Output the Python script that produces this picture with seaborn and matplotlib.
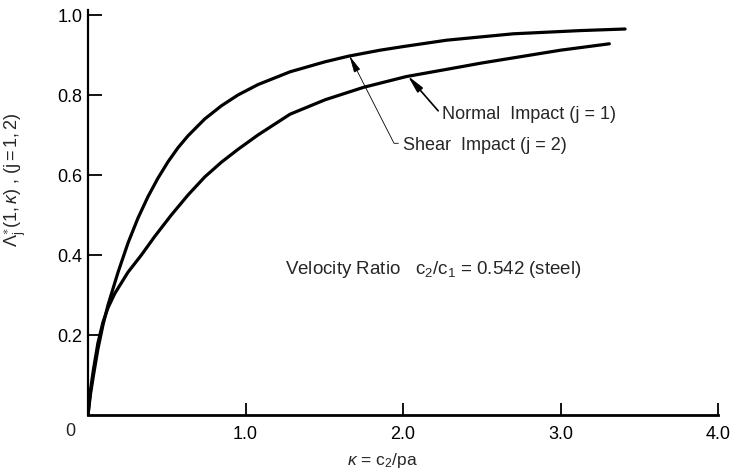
import matplotlib
matplotlib.use('Agg')
import matplotlib.pyplot as plt
import seaborn as sns

# --- Data ---
kappa_shear = [0, 0.015, 0.035, 0.063, 0.095, 0.127, 0.190, 0.254, 0.317, 0.381,
               0.444, 0.508, 0.571, 0.635, 0.741, 0.847, 0.952, 1.079, 1.283,
               1.505, 1.653, 1.854, 2.0, 2.277, 2.70, 3.124, 3.41]
lam_shear = [0, 0.05, 0.10, 0.165, 0.225, 0.275, 0.356, 0.43, 0.492, 0.546,
             0.592, 0.633, 0.668, 0.698, 0.740, 0.773, 0.800, 0.826, 0.858,
             0.883, 0.897, 0.912, 0.921, 0.937, 0.953, 0.961, 0.965]

kappa_normal = [0, 0.015, 0.035, 0.063, 0.095, 0.127, 0.169, 0.254, 0.339, 0.423,
                0.529, 0.635, 0.741, 0.847, 0.952, 1.079, 1.283, 1.505, 1.748,
                2.02, 2.36, 2.5, 3.0, 3.31]
lam_normal = [0, 0.06, 0.115, 0.18, 0.232, 0.268, 0.303, 0.357, 0.40, 0.446,
              0.50, 0.55, 0.595, 0.632, 0.664, 0.700, 0.752, 0.788, 0.819,
              0.846, 0.870, 0.880, 0.912, 0.928]

x_ticks = [1.0, 2.0, 3.0, 4.0]
x_tick_labels = ['1.0', '2.0', '3.0', '4.0']
y_ticks = [0.2, 0.4, 0.6, 0.8, 1.0]
y_tick_labels = ['0.2', '0.4', '0.6', '0.8', '1.0']

# --- Style ---
sns.set_style('ticks')
plt.rcParams['font.family'] = ['Liberation Sans', 'DejaVu Sans']
plt.rcParams['mathtext.fontset'] = 'custom'
plt.rcParams['mathtext.rm'] = 'Liberation Sans'
plt.rcParams['mathtext.it'] = 'Liberation Sans:italic'

fig = plt.figure(figsize=(7.32, 4.72), dpi=100)
ax = fig.add_axes([88 / 732, 57 / 472, 630 / 732, 405 / 472])

sns.lineplot(x=kappa_shear, y=lam_shear, ax=ax, color='black', lw=2.3,
             errorbar=None, solid_joinstyle='round', solid_capstyle='round')
sns.lineplot(x=kappa_normal, y=lam_normal, ax=ax, color='black', lw=2.3,
             errorbar=None, solid_joinstyle='round', solid_capstyle='round')

ax.set_xlim(0, 4.0)
ax.set_ylim(0, 1.0125)
ax.set_xticks(x_ticks)
ax.set_xticklabels(x_tick_labels)
ax.set_yticks(y_ticks)
ax.set_yticklabels(y_tick_labels)
ax.tick_params(axis='both', direction='in', colors='black', labelsize=13)
ax.tick_params(axis='x', length=9, width=1.3, pad=8)
ax.tick_params(axis='y', length=10, width=1.3, pad=4)
sns.despine(ax=ax)
ax.spines['left'].set_linewidth(1.6)
ax.spines['bottom'].set_linewidth(2.0)
ax.spines['left'].set_color('black')
ax.spines['bottom'].set_color('black')

# shared origin label
ax.text(-0.115, -0.042, '0', fontsize=13, ha='center', va='center', clip_on=False)

ax.set_xlabel(r'$\kappa$ = c$_2$/pa', fontsize=12.5)
ax.xaxis.set_label_coords(0.467, -0.088)
ax.set_ylabel(r'$\Lambda_\mathrm{j}^{\ast}(1,\kappa)$ , $(\mathrm{j}=1,2)$', fontsize=13)
ax.yaxis.set_label_coords(-0.095, 0.58)

# annotations
ax.annotate('Normal  Impact (j = 1)', xy=(2.03, 0.848), xytext=(2.25, 0.752),
            fontsize=13, ha='left', va='center',
            arrowprops=dict(arrowstyle='-|>,head_length=0.8,head_width=0.16',
                            connectionstyle='angle,angleA=0,angleB=131,rad=0',
                            color='black', lw=1.2, relpos=(0, 0.6),
                            shrinkA=1, shrinkB=0))
ax.annotate('Shear  Impact (j = 2)', xy=(1.66, 0.898), xytext=(2.0, 0.675),
            fontsize=13, ha='left', va='center',
            arrowprops=dict(arrowstyle='-|>,head_length=0.8,head_width=0.16',
                            connectionstyle='angle,angleA=0,angleB=117,rad=0',
                            color='black', lw=0.6, relpos=(0, 0.6),
                            shrinkA=1, shrinkB=0))

ax.text(1.25, 0.3625, r'Velocity Ratio   c$_2$/c$_1$ = 0.542 (steel)',
        fontsize=13.5, ha='left', va='center')

fig.savefig('out.png', dpi=100)
